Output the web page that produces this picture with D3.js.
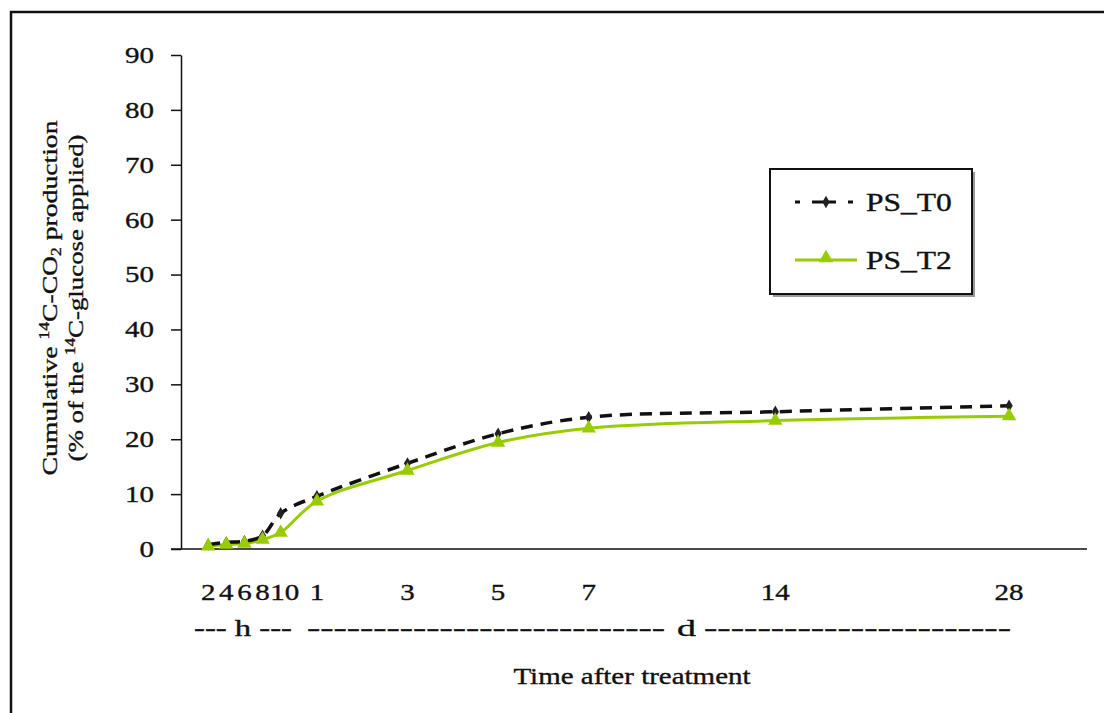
<!DOCTYPE html>
<html>
<head>
<meta charset="utf-8">
<title>cumulative 14C-CO2</title>
<script src="https://cdn.jsdelivr.net/npm/d3@7"></script>
<style>
body { margin: 0; background: #fff; }
text { font-family: "Liberation Serif", "Times New Roman", serif; fill: #111; stroke: #111; stroke-width: 0.35px; }
</style>
</head>
<body>
<svg id="chart" width="1104" height="713"></svg>
<script>
// sampling times: label, unit (h / d) and position on the (compressed) time axis
var tick_labels = ["2", "4", "6", "8", "10", "1", "3", "5", "7", "14", "28"];
var tick_units  = ["h", "h", "h", "h", "h", "d", "d", "d", "d", "d", "d"];
var time_pos    = [1, 2, 3, 4, 5, 7, 12, 17, 22, 32.3, 45.2];

// cumulative 14C-CO2 (% of applied 14C-glucose)
var ps_t0 = [0.8, 1.2, 1.4, 2.4, 6.5, 9.6, 15.6, 21.0, 24.0, 25.0, 26.1];
var ps_t2 = [0.5, 0.8, 1.0, 1.7, 3.0, 8.7, 14.3, 19.4, 22.0, 23.4, 24.2];

var y_ticks = [0, 10, 20, 30, 40, 50, 60, 70, 80, 90];

var stretch = 1.26;   // the text in the picture is wide
var svg = d3.select("#chart");

// outer frame (top + left edge)
svg.append("path").attr("d", "M11,713 V12 H1104")
  .style("fill", "none").style("stroke", "#111").style("stroke-width", 2.5);

var x = d3.scaleLinear().domain([-0.5, 49.5]).range([181, 1087]);
var y = d3.scaleLinear().domain([0, 90]).range([549, 55]);

// y axis
var yAxis = svg.append("g").attr("transform", "translate(181,0)")
  .call(d3.axisLeft(y).tickValues(y_ticks).tickSize(10).tickPadding(17).tickSizeOuter(0));
yAxis.select(".domain").style("stroke", "#111").style("stroke-width", 1.5);
yAxis.selectAll(".tick line").style("stroke", "#111").style("stroke-width", 1.5);
yAxis.selectAll(".tick text").style("font-size", "23px").style("font-family", "Liberation Serif").attr("fill", "#111");

// x axis line, ticks are text only
svg.append("line").attr("x1", 171).attr("x2", x(49.5)).attr("y1", y(0)).attr("y2", y(0))
  .style("stroke", "#111").style("stroke-width", 1.5);

var xl = svg.append("g");
xl.selectAll("text").data(tick_labels).enter().append("text")
  .attr("x", function(d, i) { return x(time_pos[i]) + (d == "10" ? 4 : 0); })
  .attr("y", 600)
  .attr("text-anchor", "middle")
  .style("font-size", "23px")
  .text(function(d) { return d; });

// unit brackets under the labels
function fixed(t, x0, len) {
  svg.append("text").attr("x", x0).attr("y", 636).attr("textLength", len)
    .attr("lengthAdjust", "spacingAndGlyphs").attr("class", "fixed")
    .style("font-size", "23px").text(t);
}
fixed("--- h ---", 194, 98);
fixed("---------------------------", 307, 358);
fixed("d", 677, 19);
fixed("-----------------------", 704, 307);

svg.append("text").attr("x", 632).attr("y", 684).attr("text-anchor", "middle")
  .style("font-size", "23px").text("Time after treatment");

// y label, two rotated lines
var yl = svg.append("g").attr("transform", "translate(57,298) rotate(-90)");
var l1 = yl.append("text").attr("text-anchor", "middle").style("font-size", "22px")
  .attr("textLength", 355).attr("lengthAdjust", "spacingAndGlyphs").attr("class", "fixed");
l1.append("tspan").text("Cumulative ");
l1.append("tspan").attr("dy", -8).style("font-size", "14px").text("14");
l1.append("tspan").attr("dy", 8).text("C-CO");
l1.append("tspan").attr("dy", 4).style("font-size", "14px").text("2");
l1.append("tspan").attr("dy", -4).text(" production");

var l2 = yl.append("text").attr("y", 26).attr("text-anchor", "middle").style("font-size", "22px")
  .attr("textLength", 327).attr("lengthAdjust", "spacingAndGlyphs").attr("class", "fixed");
l2.append("tspan").text("(% of the ");
l2.append("tspan").attr("dy", -8).style("font-size", "14px").text("14");
l2.append("tspan").attr("dy", 8).text("C-glucose applied)");

// series
var line = d3.line()
  .x(function(d, i) { return x(time_pos[i]); })
  .y(function(d) { return y(d); })
  .curve(d3.curveCatmullRom);

var green = "#99cc00";

svg.append("path").datum(ps_t2).attr("d", line)
  .style("fill", "none").style("stroke", green).style("stroke-width", 3);
svg.append("path").datum(ps_t0).attr("d", line)
  .style("fill", "none").style("stroke", "#111").style("stroke-width", 3.5)
  .style("stroke-dasharray", "12,8");

var diamond = d3.symbol().type(d3.symbolDiamond).size(45);
var tri = d3.symbol().type(d3.symbolTriangle).size(90);

svg.append("g").selectAll("path").data(ps_t0).enter().append("path")
  .attr("d", diamond)
  .attr("transform", function(d, i) { return "translate(" + x(time_pos[i]) + "," + y(d) + ")"; })
  .style("fill", "#222");
svg.append("g").selectAll("path").data(ps_t2).enter().append("path")
  .attr("d", tri)
  .attr("transform", function(d, i) { return "translate(" + x(time_pos[i]) + "," + y(d) + ")"; })
  .style("fill", green);

// legend
var lg = svg.append("g").attr("transform", "translate(770,169)");
lg.append("rect").attr("x", 3).attr("y", 3).attr("width", 202).attr("height", 125).style("fill", "#999");
lg.append("rect").attr("width", 202).attr("height", 125)
  .style("fill", "#fff").style("stroke", "#111").style("stroke-width", 2);

lg.append("line").attr("x1", 25).attr("x2", 87).attr("y1", 33).attr("y2", 33)
  .style("stroke", "#111").style("stroke-width", 3).style("stroke-dasharray", "5,12,24,12");
lg.append("path").attr("d", diamond).attr("transform", "translate(56,33)").style("fill", "#222");
lg.append("text").attr("x", 96).attr("y", 42).style("font-size", "25px").text("PS_T0");

lg.append("line").attr("x1", 25).attr("x2", 87).attr("y1", 91).attr("y2", 91)
  .style("stroke", green).style("stroke-width", 3);
lg.append("path").attr("d", tri).attr("transform", "translate(56,89)").style("fill", green);
lg.append("text").attr("x", 96).attr("y", 100).style("font-size", "25px").text("PS_T2");

// widen all other text along its baseline
svg.selectAll("text").filter(function() { return !this.classList.contains("fixed"); })
  .each(function() {
    var w = this.getComputedTextLength();
    this.setAttribute("textLength", w * stretch);
    this.setAttribute("lengthAdjust", "spacingAndGlyphs");
  });
</script>
</body>
</html>
